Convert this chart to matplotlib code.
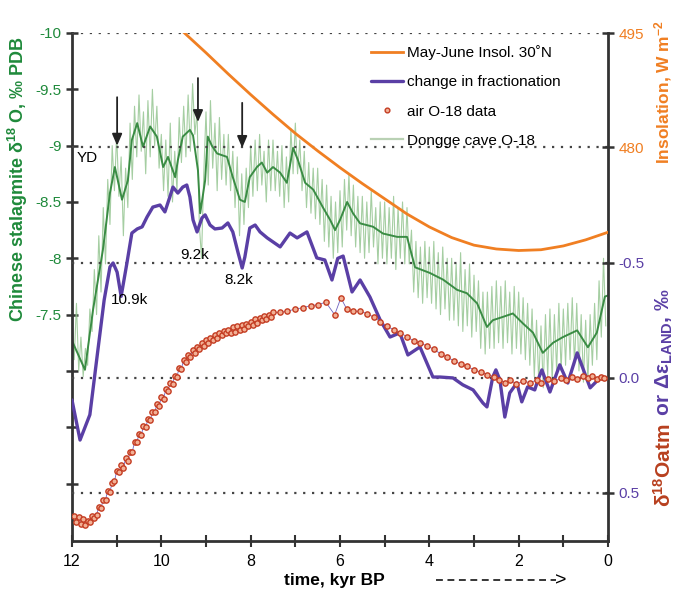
import numpy as np
import matplotlib
matplotlib.use("Agg")
import matplotlib.pyplot as plt
from matplotlib.lines import Line2D

plt.rcParams["font.family"] = ["Liberation Sans", "DejaVu Sans"]
plt.rcParams["mathtext.fontset"] = "custom"
plt.rcParams["mathtext.rm"] = "Liberation Sans"
plt.rcParams["mathtext.it"] = "Liberation Sans:italic"
plt.rcParams["mathtext.bf"] = "Liberation Sans:bold"
plt.rcParams["axes.unicode_minus"] = False

# May-June insolation 30N (W m-2)
insol_t = [9.6, 9.5, 9.0, 8.5, 8.0, 7.5, 7.0, 6.5, 6.0, 5.5, 5.0, 4.5, 4.0, 3.5,
           3.0, 2.5, 2.0, 1.5, 1.0, 0.5, 0.0]
insol_v = [495.6, 495.1, 492.4, 489.6, 486.9, 484.3, 481.8, 479.5, 477.3, 475.2,
           473.2, 471.2, 469.5, 468.1, 467.1, 466.6, 466.4, 466.5, 467.0, 467.8, 468.8]

# Dongge cave smoothed record (permil PDB)
dongge_t = [11.98, 11.71, 11.53, 11.31, 11.15, 11.04, 10.88, 10.75, 10.66, 10.54,
            10.41, 10.25, 10.10, 9.96, 9.85, 9.69, 9.63, 9.52, 9.36, 9.29,
            9.18, 9.13, 9.02, 8.96, 8.87, 8.75, 8.53, 8.40, 8.24, 8.13,
            8.02, 7.86, 7.75, 7.63, 7.50, 7.34, 7.19, 7.05, 6.94, 6.78,
            6.60, 6.38, 6.22, 6.11, 6.00, 5.84, 5.71, 5.55, 5.26, 5.04,
            4.72, 4.50, 4.32, 3.99, 3.69, 3.38, 3.16, 2.93, 2.71, 2.58,
            2.35, 2.13, 1.90, 1.68, 1.46, 1.23, 1.01, 0.69, 0.45, 0.25, 0.07, 0.0]
dongge_smooth = [-7.25, -7.01, -7.54, -8.07, -8.58, -8.81, -8.52, -8.69, -9.05, -9.20,
                 -8.99, -9.17, -9.08, -8.81, -8.90, -8.72, -8.87, -9.08, -9.14, -9.09,
                 -8.78, -8.40, -8.69, -9.08, -9.00, -8.93, -8.90, -8.72, -8.52, -8.50,
                 -8.72, -8.81, -8.85, -8.76, -8.81, -8.76, -8.67, -8.98, -8.87, -8.67,
                 -8.61, -8.45, -8.34, -8.25, -8.34, -8.50, -8.40, -8.31, -8.28, -8.22,
                 -8.19, -8.19, -7.92, -7.87, -7.81, -7.72, -7.69, -7.60, -7.39, -7.45,
                 -7.48, -7.51, -7.42, -7.34, -7.16, -7.25, -7.30, -7.36, -7.21, -7.34, -7.66, -7.67]

# Dongge cave raw record, every 0.05 kyr from 12.0 to 0.05
dongge_raw_t = np.linspace(12.0, 0.05, 240)
dongge_raw = [
    -7.45, -7.10, -7.60, -7.00, -7.30, -6.95, -7.20, -7.05, -7.55, -7.35,
    -7.90, -7.50, -8.20, -7.70, -8.45, -7.95, -8.70, -8.30, -9.00, -8.60,
    -9.10, -8.55, -8.90, -8.20, -8.80, -8.45, -9.20, -8.70, -9.35, -8.90,
    -9.45, -8.95, -9.30, -8.75, -9.40, -8.90, -9.50, -9.00, -9.35, -8.80,
    -9.10, -8.60, -9.05, -8.55, -9.20, -8.50, -8.95, -8.60, -9.25, -8.85,
    -9.35, -8.90, -9.45, -8.95, -9.55, -9.10, -9.30, -8.30, -8.00, -8.75,
    -9.30, -8.65, -9.40, -8.80, -9.20, -8.60, -9.25, -8.70, -9.10, -8.65,
    -9.10, -8.60, -8.95, -8.45, -8.90, -8.20, -8.75, -8.30, -8.80, -8.45,
    -9.00, -8.55, -9.05, -8.60, -9.10, -8.65, -8.95, -8.50, -9.05, -8.60,
    -9.05, -8.60, -8.95, -8.55, -9.00, -8.45, -8.90, -8.50, -9.15, -8.75,
    -9.20, -8.75, -9.05, -8.60, -8.95, -8.45, -8.85, -8.40, -8.80, -8.35,
    -8.80, -8.30, -8.70, -8.15, -8.65, -8.10, -8.55, -8.00, -8.50, -8.05,
    -8.60, -8.10, -8.70, -8.25, -8.75, -8.20, -8.65, -8.10, -8.55, -8.05,
    -8.55, -8.00, -8.50, -8.05, -8.60, -8.10, -8.45, -7.95, -8.50, -8.00,
    -8.50, -7.95, -8.45, -8.00, -8.55, -7.90, -8.45, -8.00, -8.50, -7.95,
    -8.45, -7.95, -8.25, -7.70, -8.15, -7.65, -8.10, -7.60, -8.15, -7.65,
    -8.10, -7.60, -8.15, -7.55, -8.05, -7.50, -8.10, -7.55, -8.00, -7.45,
    -8.00, -7.45, -7.95, -7.40, -8.05, -7.35, -7.90, -7.40, -7.95, -7.30,
    -7.85, -7.35, -7.80, -7.20, -7.70, -7.15, -7.70, -7.20, -7.75, -7.20,
    -7.80, -7.25, -7.75, -7.20, -7.80, -7.25, -7.70, -7.15, -7.75, -7.20,
    -7.70, -7.15, -7.65, -7.10, -7.60, -7.05, -7.55, -6.95, -7.45, -6.90,
    -7.40, -6.85, -7.50, -6.95, -7.55, -6.90, -7.50, -7.00, -7.60, -7.00,
    -7.55, -7.05, -7.60, -7.10, -7.65, -7.05, -7.60, -7.00, -7.50, -6.90,
    -7.45, -6.90, -7.50, -7.05, -7.60, -7.10, -7.80, -7.30, -8.00, -7.40,
]

# change in fractionation (permil)
frac_t = [12.0, 11.82, 11.60, 11.44, 11.28, 11.15, 11.08, 10.99, 10.90, 10.77,
          10.66, 10.54, 10.43, 10.32, 10.19, 10.03, 9.92, 9.81, 9.74, 9.63,
          9.52, 9.43, 9.36, 9.29, 9.20, 9.09, 9.02, 8.91, 8.80, 8.64,
          8.51, 8.40, 8.28, 8.19, 8.13, 8.02, 7.90, 7.79, 7.63, 7.34,
          7.12, 6.96, 6.74, 6.52, 6.34, 6.18, 6.05, 5.93, 5.73, 5.55,
          5.33, 5.10, 4.88, 4.66, 4.48, 4.21, 3.92, 3.76, 3.47, 3.25,
          3.02, 2.80, 2.71, 2.58, 2.51, 2.42, 2.31, 2.20, 2.04, 1.93,
          1.80, 1.64, 1.57, 1.48, 1.30, 1.08, 0.90, 0.69, 0.40, 0.18]
frac_v = [0.096, 0.27, 0.16, -0.091, -0.339, -0.483, -0.50, -0.46, -0.355, -0.50,
          -0.630, -0.648, -0.657, -0.700, -0.743, -0.752, -0.722, -0.787, -0.830, -0.804,
          -0.830, -0.839, -0.787, -0.687, -0.635, -0.696, -0.709, -0.665, -0.648, -0.652,
          -0.674, -0.635, -0.543, -0.478, -0.526, -0.652, -0.665, -0.635, -0.609, -0.570,
          -0.630, -0.609, -0.635, -0.522, -0.513, -0.426, -0.520, -0.530, -0.374, -0.426,
          -0.352, -0.252, -0.178, -0.196, -0.100, -0.135, -0.004, -0.004, 0.0, 0.030,
          0.052, 0.109, 0.126, -0.004, -0.035, 0.009, 0.170, 0.065, 0.022, 0.104,
          0.039, 0.052, 0.009, -0.035, 0.061, -0.057, 0.022, -0.109, 0.043, 0.0]

# air O-18 data (permil)
air_t_dense = np.linspace(11.95, 7.5, 90)
air_v_dense = [
    0.600, 0.625, 0.605, 0.635, 0.615, 0.640, 0.620, 0.625, 0.600, 0.610,
    0.595, 0.560, 0.565, 0.530, 0.530, 0.490, 0.495, 0.455, 0.450, 0.405,
    0.410, 0.380, 0.390, 0.350, 0.360, 0.320, 0.320, 0.280, 0.280, 0.245,
    0.250, 0.210, 0.215, 0.180, 0.185, 0.150, 0.150, 0.115, 0.120, 0.085,
    0.090, 0.050, 0.055, 0.020, 0.025, -0.010, -0.005, -0.045, -0.040, -0.080,
    -0.070, -0.100, -0.090, -0.120, -0.110, -0.135, -0.125, -0.150, -0.140, -0.165,
    -0.150, -0.175, -0.165, -0.185, -0.175, -0.195, -0.185, -0.205, -0.195, -0.210,
    -0.195, -0.220, -0.200, -0.225, -0.210, -0.230, -0.215, -0.235, -0.225, -0.245,
    -0.230, -0.255, -0.240, -0.260, -0.250, -0.270, -0.255, -0.275, -0.265, -0.285,
]
air_t_sparse = [7.35, 7.18, 7.0, 6.83, 6.66, 6.49, 6.32, 6.12, 5.98, 5.85,
                5.7, 5.55, 5.4, 5.25, 5.1, 4.95, 4.8, 4.65, 4.5, 4.35,
                4.2, 4.05, 3.9, 3.75, 3.6, 3.45, 3.3, 3.15, 3.0, 2.85,
                2.7, 2.55, 2.45, 2.3, 2.2, 2.05, 1.9, 1.75, 1.6, 1.5,
                1.35, 1.2, 1.05, 0.95, 0.8, 0.7, 0.55, 0.45, 0.35, 0.25, 0.15, 0.1]
air_v_sparse = [-0.285, -0.29, -0.30, -0.305, -0.315, -0.318, -0.33, -0.275, -0.348, -0.30,
                -0.29, -0.29, -0.28, -0.265, -0.245, -0.225, -0.21, -0.195, -0.18, -0.16,
                -0.15, -0.14, -0.125, -0.105, -0.09, -0.075, -0.06, -0.05, -0.035, -0.025,
                -0.015, -0.005, 0.01, 0.02, 0.01, 0.025, 0.015, 0.02, 0.01, 0.02,
                0.005, 0.015, 0.0, 0.01, -0.005, 0.005, -0.01, 0.0, -0.01, 0.005, -0.005, 0.0]

air_t = np.concatenate([air_t_dense, air_t_sparse])
air_v = np.concatenate([air_v_dense, air_v_sparse])

green = "#1f8a3b"
green_line = "#3a8c44"
green_raw = "#8fc28b"
orange = "#f07f22"
purple = "#5a3fa5"
red = "#b8401f"
dark = "#333333"

fig = plt.figure(figsize=(6.76, 5.93), dpi=100)
ax = fig.add_axes([72 / 676, 1 - 541 / 593, 536 / 676, 508 / 593])
ax2 = ax.twinx()
ax3 = ax.twinx()

# stalagmite
ax.plot(dongge_raw_t, dongge_raw, color=green_raw, lw=0.8, alpha=0.8)
ax.plot(dongge_t, dongge_smooth, color=green_line, lw=1.4)
ax.set_xlim(12, 0)
ax.set_ylim(-5.49, -10)
ax.set_yticks([-10, -9.5, -9, -8.5, -8, -7.5, -7, -6.5, -6])
ax.set_yticklabels(["-10", "-9.5", "-9", "-8.5", "-8", "-7.5", "", "", ""])
ax.set_xticks([12, 10, 8, 6, 4, 2, 0])
ax.set_xticks([11, 9, 7, 5, 3, 1], minor=True)
ax.tick_params(axis="y", direction="inout", length=9, width=1.8, color=dark,
               labelcolor=green, labelsize=11, pad=3)
ax.tick_params(axis="x", which="both", direction="inout", length=8, width=1.5,
               color=dark, labelsize=11.5, pad=5)
for s in ["top", "right"]:
    ax.spines[s].set_visible(False)
for s in ["left", "bottom"]:
    ax.spines[s].set_linewidth(2)
    ax.spines[s].set_color(dark)

# fractionation and air O-18
ax2.set_ylim(0.709, -1.5)
for yv in [-0.5, 0.0, 0.5]:
    ax2.axhline(yv, color="#444444", lw=1.6, ls=(0, (1, 3)), zorder=1)
h_frac, = ax2.plot(frac_t, frac_v, color=purple, lw=2.4, zorder=3,
                   solid_joinstyle="round", solid_capstyle="round")
ax2.plot(air_t, air_v, color="#6f63c0", lw=0.6, zorder=4)
h_air, = ax2.plot(air_t, air_v, ls="none", marker="o", ms=3.8, mew=1.0,
                  mec="#c43c22", mfc="#f2b196", zorder=5)
ax2.set_yticks([-0.5, 0.0, 0.5])
ax2.set_yticklabels(["-0.5", "0.0", "0.5"])
ax2.tick_params(axis="y", direction="inout", length=9, width=1.8, color=dark,
                labelcolor=purple, labelsize=11, pad=3)
for s in ["top", "left", "bottom"]:
    ax2.spines[s].set_visible(False)
ax2.spines["right"].set_linewidth(2)
ax2.spines["right"].set_color(dark)

# insolation
ax3.set_ylim(428.2, 495)
for yv in [495, 480]:
    ax3.axhline(yv, color="#444444", lw=1.6, ls=(0, (1, 3)), zorder=1)
h_ins, = ax3.plot(insol_t, insol_v, color=orange, lw=2.0, zorder=3)
ax3.set_yticks([495, 480])
ax3.tick_params(axis="y", direction="inout", length=9, width=1.8, color=dark,
                labelcolor=orange, labelsize=11, pad=3)
for s in ["top", "left", "bottom", "right"]:
    ax3.spines[s].set_visible(False)

# event markers
for x0, y0, y1 in [(10.99, -9.43, -9.0), (9.18, -9.60, -9.21), (8.19, -9.38, -8.98)]:
    ax3.annotate("", xy=(x0, y1), xytext=(x0, y0),
                 xycoords=ax.transData, textcoords=ax.transData,
                 arrowprops=dict(arrowstyle="-|>,head_length=0.7,head_width=0.3",
                                 color="#222222", lw=1.3, shrinkA=0, shrinkB=0))
ax3.text(11.89, -8.89, "YD", transform=ax.transData, fontsize=11, va="center", ha="left")
ax3.text(9.25, -8.03, "9.2k", transform=ax.transData, fontsize=11, va="center", ha="center")
ax3.text(8.26, -7.81, "8.2k", transform=ax.transData, fontsize=11, va="center", ha="center")
ax3.text(10.72, -7.63, "10.9k", transform=ax.transData, fontsize=11, va="center", ha="center")

h_raw_leg = Line2D([], [], color="#b9d1b4", lw=1.6)
leg = ax3.legend([h_ins, h_frac, h_air, h_raw_leg],
                 ["May-June Insol. 30˚N", "change in fractionation",
                  "air O-18 data", "Dongge cave O-18"],
                 loc="upper left", bbox_to_anchor=(371 / 676, 1 - 45 / 593),
                 bbox_transform=fig.transFigure, frameon=False, fontsize=11,
                 handlelength=2.1, handletextpad=0.25, labelspacing=1.0,
                 borderpad=0, borderaxespad=0, markerscale=0.9)

# axis labels
fig.text(18 / 676, 1 - 179 / 593, "Chinese stalagmite δ$^{\\mathbf{18}}$ O, ‰ PDB",
         rotation=90, ha="center", va="center", color=green, fontsize=13,
         fontweight="bold")
fig.text(663 / 676, 1 - 92 / 593, "Insolation, W m$^{\\mathbf{-2}}$",
         rotation=90, ha="center", va="center", color=orange, fontsize=12.5,
         fontweight="bold")
t1 = fig.text(664 / 676, 1 - 507 / 593, "δ$^{\\mathbf{18}}$Oatm",
              rotation=90, ha="center", va="bottom", color=red, fontsize=15,
              fontweight="bold")
fig.canvas.draw()
bb = t1.get_window_extent().transformed(fig.transFigure.inverted())
fig.text(664 / 676, bb.y1 + 0.004, " or Δε$_{\\mathbf{LAND}}$, ‰",
         rotation=90, ha="center", va="bottom", color=purple, fontsize=15,
         fontweight="bold")
fig.text(334 / 676, 1 - 581 / 593, "time, kyr BP", ha="center", va="center",
         fontsize=12.5, fontweight="bold")
fig.add_artist(Line2D([436 / 676, 556 / 676], [1 - 580 / 593, 1 - 580 / 593],
                      transform=fig.transFigure, color="black", lw=1.1,
                      dashes=(4.5, 3)))
fig.text(561 / 676, 1 - 581 / 593, ">", ha="center", va="center", fontsize=14)

fig.savefig("out.png", dpi=100)
